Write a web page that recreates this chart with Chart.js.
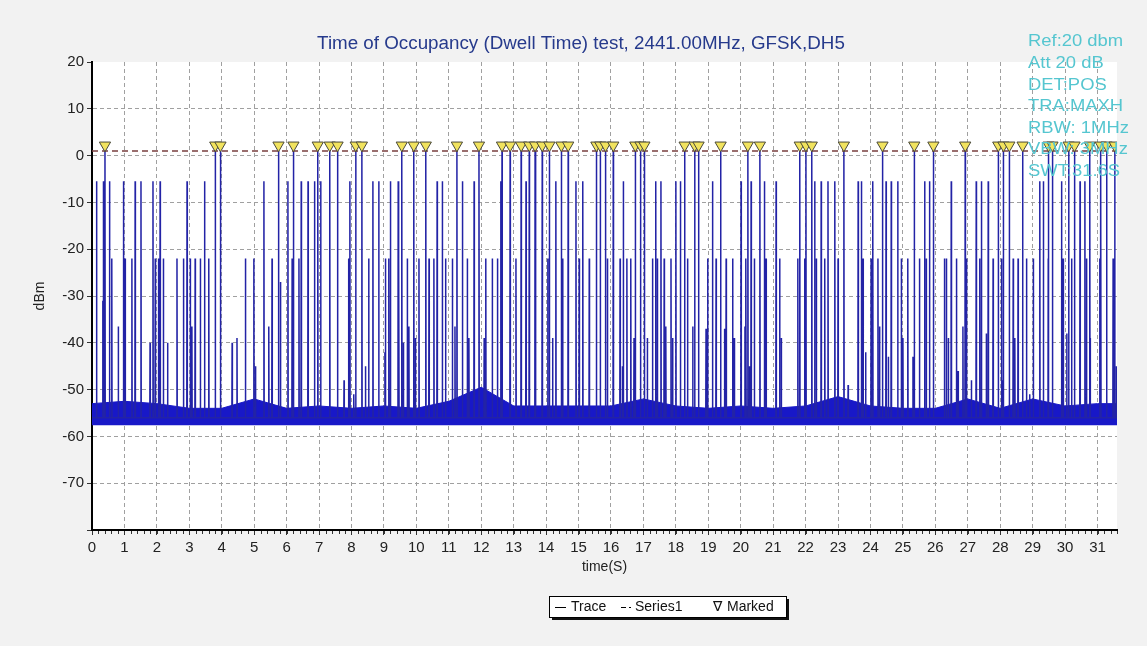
<!DOCTYPE html>
<html>
<head>
<meta charset="utf-8">
<script src="https://cdn.jsdelivr.net/npm/chart.js@4.4.1/dist/chart.umd.min.js"></script>
<style>
  html, body { margin: 0; padding: 0; background: #f3f3f3; }
</style>
</head>
<body>
<canvas id="dwellChart" width="1147" height="646"></canvas>
<script>
// =========================
// DATA
// =========================
const TIME_MAX = 31.6;
const FLOOR_DBM = -56;     // trace baseline between pulses
const MARK_PEAK = 1;       // marked pulses reach the limit line
const TALL_PEAK = -5.5;
const MID_PEAK = -22;
const MARKER_Y = 2.2;      // where the triangles sit
const LIMIT_DBM = 1;       // Series1

// pulses flagged by the analyzer (yellow triangles)
const markedTimes = [0.40, 3.80, 3.96, 5.75, 6.21, 6.96, 7.33, 7.57, 8.13, 8.32,
  9.55, 9.92, 10.29, 11.25, 11.93, 12.64, 12.89, 13.23, 13.48, 13.66, 13.88, 14.10,
  14.47, 14.68, 15.55, 15.67, 15.83, 16.07, 16.75, 16.91, 17.03, 18.27, 18.58, 18.70,
  19.38, 20.22, 20.59, 21.82, 22.01, 22.19, 23.18, 24.37, 25.35, 25.94, 26.92, 27.94,
  28.10, 28.28, 28.69, 29.49, 29.61, 30.11, 30.29, 30.76, 31.10, 31.28, 31.53];

// unmarked pulses around -5 dBm
const tallTimes = [0.14, 0.35, 0.54, 0.97, 1.33, 1.51, 1.88, 2.10, 2.93, 3.47, 5.30,
  6.04, 6.45, 6.66, 6.86, 7.05, 7.95, 8.66, 8.84, 9.20, 9.44, 10.64, 10.80, 11.42,
  11.78, 12.60, 13.38, 14.30, 14.92, 15.13, 16.38, 17.38, 17.54, 18.00, 18.14, 19.13,
  20.01, 20.32, 20.73, 21.09, 22.28, 22.48, 22.69, 22.90, 23.62, 23.72, 24.07, 24.48,
  24.64, 24.84, 25.67, 25.82, 26.49, 27.26, 27.42, 27.63, 29.22, 29.33, 29.89, 30.46, 30.61];

// pulses around -22 dBm
const midTimes = [0.61, 1.02, 1.23, 1.95, 2.05, 2.20, 2.62, 2.82, 3.03, 3.18, 3.34,
  3.60, 4.73, 4.99, 5.55, 6.17, 6.38, 7.91, 8.53, 9.05, 9.15, 9.46, 9.72, 10.08, 10.39,
  10.54, 10.90, 11.11, 11.57, 12.14, 12.34, 12.50, 13.07, 13.68, 14.05, 14.51, 15.02,
  15.33, 15.89, 16.28, 16.49, 16.61, 17.28, 17.43, 17.64, 17.85, 18.36, 18.98, 19.24,
  19.55, 19.75, 20.16, 20.42, 20.78, 21.20, 21.76, 21.97, 22.33, 22.59, 23.00, 23.77,
  24.02, 24.23, 24.95, 25.15, 25.51, 25.72, 26.28, 26.34, 26.65, 26.96, 27.37, 27.78,
  28.04, 28.40, 28.55, 28.81, 29.02, 29.48, 29.94, 30.20, 30.66, 31.07, 31.48];

// weaker pulses [time, dBm]
const lowPulses = [[0.33, -31], [0.81, -36.5], [1.79, -40], [2.33, -40], [3.08, -36.5],
  [4.32, -40], [4.47, -39], [5.04, -45], [5.45, -36.5], [5.81, -27], [7.77, -48],
  [8.07, -51], [8.43, -45], [9.03, -42], [9.60, -40], [9.77, -36.5], [9.97, -39],
  [11.19, -36.5], [11.62, -39], [12.09, -39], [14.20, -39], [16.35, -45], [16.71, -39],
  [17.12, -39], [17.69, -36.5], [17.90, -39], [18.52, -36.5], [18.93, -37], [19.50, -37],
  [19.80, -39], [20.13, -36.5], [20.27, -45], [21.25, -39], [23.31, -49], [23.85, -42],
  [24.28, -36.5], [24.55, -43], [25.00, -39], [25.31, -43], [26.40, -39], [26.70, -46],
  [26.85, -36.5], [27.11, -48], [27.57, -38], [28.09, -48], [28.45, -39], [28.91, -51],
  [30.05, -38], [30.77, -39], [31.49, -42], [31.58, -45]];

// top of the noise floor band
const noiseTimes = [0, 1, 2, 3, 4, 5, 6, 7, 8, 9, 10, 11, 12, 13, 14, 15, 16, 17, 18,
  19, 20, 21, 22, 23, 24, 25, 26, 27, 28, 29, 30, 31, 31.6];
const noiseTop = [-53, -52.5, -53, -54, -54, -52, -54, -53.5, -54, -53.5, -54, -52.5, -49.5, -53.5,
  -53.5, -53.5, -53.5, -52, -53.5, -54, -53.5, -54, -53.5, -51.5, -53.5, -54, -54, -52, -54, -52, -53.5, -53, -53];
const NOISE_BOTTOM = -57.6;

const infoLines = ['Ref:20 dbm', 'Att 20 dB', 'DET:POS', 'TRA:MAXH', 'RBW: 1MHz', 'VBW: 3MHz', 'SWT:31.6S'];
const TITLE = 'Time of Occupancy (Dwell Time) test, 2441.00MHz, GFSK,DH5';

// =========================
// BUILD SERIES
// =========================
const pulses = [];
markedTimes.forEach(t => pulses.push([t, MARK_PEAK]));
tallTimes.forEach(t => pulses.push([t, TALL_PEAK]));
midTimes.forEach(t => pulses.push([t, MID_PEAK]));
lowPulses.forEach(p => pulses.push(p));
pulses.sort((a, b) => a[0] - b[0]);

const traceData = [{ x: 0, y: FLOOR_DBM }];
pulses.forEach(([t, v]) => {
  traceData.push({ x: t - 0.008, y: FLOOR_DBM }, { x: t, y: v }, { x: t + 0.008, y: FLOOR_DBM });
});
traceData.push({ x: TIME_MAX, y: FLOOR_DBM });

const noiseData = noiseTimes.map((t, i) => ({ x: t, y: noiseTop[i] }));
const limitData = [{ x: 0, y: LIMIT_DBM }, { x: TIME_MAX, y: LIMIT_DBM }];
const markData = markedTimes.map(t => ({ x: t, y: MARKER_Y }));

const FONT = '"Liberation Sans", Arial, sans-serif';

// =========================
// PLUGINS: background, title, info text, minor ticks, legend
// =========================
const decor = {
  id: 'decor',
  beforeDraw(chart) {
    const { ctx, chartArea: a } = chart;
    ctx.save();
    ctx.globalAlpha = 1;
    ctx.globalCompositeOperation = 'source-over';
    ctx.fillStyle = '#f2f2f2';
    ctx.fillRect(0, 0, chart.width, chart.height);
    ctx.fillStyle = '#ffffff';
    ctx.fillRect(a.left, a.top, a.right - a.left, a.bottom - a.top);
    ctx.restore();
  },
  afterDraw(chart) {
    const { ctx, chartArea: a } = chart;
    const xs = chart.scales.x;
    ctx.save();

    // title
    ctx.fillStyle = '#263a8c';
    ctx.font = '18.8px ' + FONT;
    ctx.textAlign = 'center';
    ctx.textBaseline = 'middle';
    ctx.fillText(TITLE, 581, 44);

    // minor ticks on the time axis
    ctx.strokeStyle = '#333';
    ctx.lineWidth = 1;
    ctx.beginPath();
    for (let i = 0; i <= 158; i++) {
      const px = Math.round(xs.getPixelForValue(i / 5)) + 0.5;
      ctx.moveTo(px, a.bottom + 1);
      ctx.lineTo(px, a.bottom + 4);
    }
    ctx.stroke();

    // analyzer settings
    ctx.fillStyle = '#55c6d0';
    ctx.font = '16px ' + FONT;
    ctx.textAlign = 'left';
    infoLines.forEach((s, i) => {
      ctx.save();
      ctx.translate(1028, 42 + i * 21.6);
      ctx.scale(1.15, 1);
      ctx.fillText(s, 0, 0);
      ctx.restore();
    });

    // legend box
    const lx = 549, ly = 596, lw = 237, lh = 21;
    ctx.fillStyle = '#111';
    ctx.fillRect(lx + 3, ly + 3, lw, lh);
    ctx.fillStyle = '#fff';
    ctx.fillRect(lx, ly, lw, lh);
    ctx.strokeStyle = '#000';
    ctx.strokeRect(lx + 0.5, ly + 0.5, lw, lh);
    const ds = chart.data.datasets;
    const cy = ly + lh / 2 + 1;
    ctx.font = '14px ' + FONT;
    ctx.fillStyle = '#111';
    ctx.textBaseline = 'middle';
    ctx.beginPath();
    ctx.moveTo(555, cy); ctx.lineTo(566, cy);
    ctx.stroke();
    ctx.fillText(ds[0].label, 571, cy);
    ctx.beginPath();
    ctx.moveTo(621, cy); ctx.lineTo(626, cy);
    ctx.moveTo(629, cy); ctx.lineTo(631, cy);
    ctx.stroke();
    ctx.fillText(ds[1].label, 635, cy);
    ctx.fillText('\u2207', 713, cy);
    ctx.fillText(ds[2].label, 727, cy);
    ctx.restore();
  }
};

// =========================
// CHART
// =========================
const ctx = document.getElementById('dwellChart');

new Chart(ctx, {
  type: 'line',
  data: {
    datasets: [
      {
        label: 'Trace',
        data: traceData,
        borderColor: '#2323a6',
        borderWidth: 1.5,
        pointRadius: 0,
        tension: 0,
        order: 2
      },
      {
        label: 'Series1',
        data: limitData,
        borderColor: '#7a3f3f',
        borderWidth: 1.5,
        borderDash: [6, 4],
        pointRadius: 0,
        order: 1
      },
      {
        label: 'Marked',
        data: markData,
        showLine: false,
        pointStyle: 'triangle',
        rotation: 180,
        pointRadius: 6.5,
        backgroundColor: '#f1e35e',
        borderColor: '#4a4a3a',
        borderWidth: 1,
        order: 0
      },
      {
        label: 'noise',
        data: noiseData,
        borderColor: '#1818c8',
        backgroundColor: '#1818c8',
        borderWidth: 1,
        pointRadius: 0,
        fill: { value: NOISE_BOTTOM },
        order: 3
      }
    ]
  },
  options: {
    responsive: false,
    animation: false,
    devicePixelRatio: 1,
    layout: { padding: { left: 28, right: 30, top: 62, bottom: 70 } },
    plugins: {
      legend: { display: false },
      tooltip: { enabled: false },
      filler: { propagate: false }
    },
    scales: {
      x: {
        type: 'linear',
        min: 0,
        max: TIME_MAX,
        afterFit(s) { s.height = 46; },
        ticks: { stepSize: 1, includeBounds: false, maxRotation: 0, autoSkip: false,
                 padding: 4, color: '#222', font: { family: FONT, size: 15 } },
        grid: {
          color: c => (c.tick && c.tick.value === 0) ? 'rgba(0,0,0,0)' : '#a0a0a0',
          tickColor: '#333', tickLength: 5, tickBorderDash: []
        },
        border: { color: '#000', width: 2, dash: [4, 3] },
        title: { display: true, text: 'time(S)', color: '#222', padding: 0,
                 font: { family: FONT, size: 14 } }
      },
      y: {
        min: -80,
        max: 20,
        afterFit(s) { s.width = 64; },
        ticks: { stepSize: 10, padding: 3, color: '#222', font: { family: FONT, size: 15 },
                 callback: v => (v === -80 ? '' : v) },
        grid: {
          color: c => (c.tick && (c.tick.value === 20 || c.tick.value === -80)) ? 'rgba(0,0,0,0)' : '#a0a0a0',
          tickColor: '#333', tickLength: 5, tickBorderDash: []
        },
        border: { color: '#000', width: 2, dash: [4, 3] },
        title: { display: true, text: 'dBm', color: '#222', padding: 4,
                 font: { family: FONT, size: 14 } }
      }
    }
  },
  plugins: [decor]
});
</script>
</body>
</html>
